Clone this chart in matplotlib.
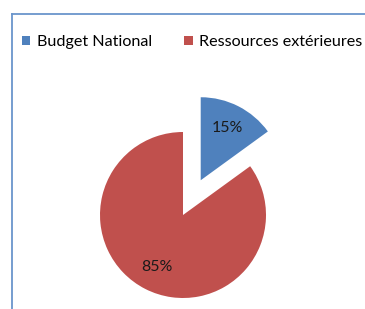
import matplotlib.pyplot as plt
from matplotlib.lines import Line2D

labels = ['Budget National', 'Ressources extérieures']
values = [15, 85]
colors = ['#4F81BD', '#C0504D']
explode = [0.47, 0]

plt.rcParams['font.family'] = ['Lato', 'DejaVu Sans']

fig = plt.figure(figsize=(3.65, 3.09), dpi=100)
ax = fig.add_axes([0, 0, 1, 1])

wedges, texts, autotexts = ax.pie(values, colors=colors, explode=explode,
                                  startangle=90, counterclock=False,
                                  autopct='%1.0f%%', pctdistance=0.7,
                                  textprops={'fontsize': 11.5, 'color': '#1a1a1a'})

# pie centre at about (183, 215) px, radius 83 px
r = 83.0
ax.set_aspect('auto')
ax.set_xlim(-183 / r, (365 - 183) / r)
ax.set_ylim(-(309 - 215) / r, 215 / r)
ax.axis('off')

# chart area border (top and left visible)
fig.add_artist(Line2D([12 / 365, 1.02], [1 - 14 / 309, 1 - 14 / 309],
                      transform=fig.transFigure, color='#6A95CC', lw=1.3))
fig.add_artist(Line2D([12 / 365, 12 / 365], [-0.02, 1 - 14 / 309],
                      transform=fig.transFigure, color='#6A95CC', lw=1.3))

fig.legend(wedges, labels, ncol=2, loc='center left',
           bbox_to_anchor=(22 / 365, 1 - 42 / 309), frameon=False,
           fontsize=11.6, handlelength=0.52, handleheight=0.52,
           handletextpad=0.4, columnspacing=2.0, borderaxespad=0,
           borderpad=0)

fig.savefig('out.png', dpi=100)
